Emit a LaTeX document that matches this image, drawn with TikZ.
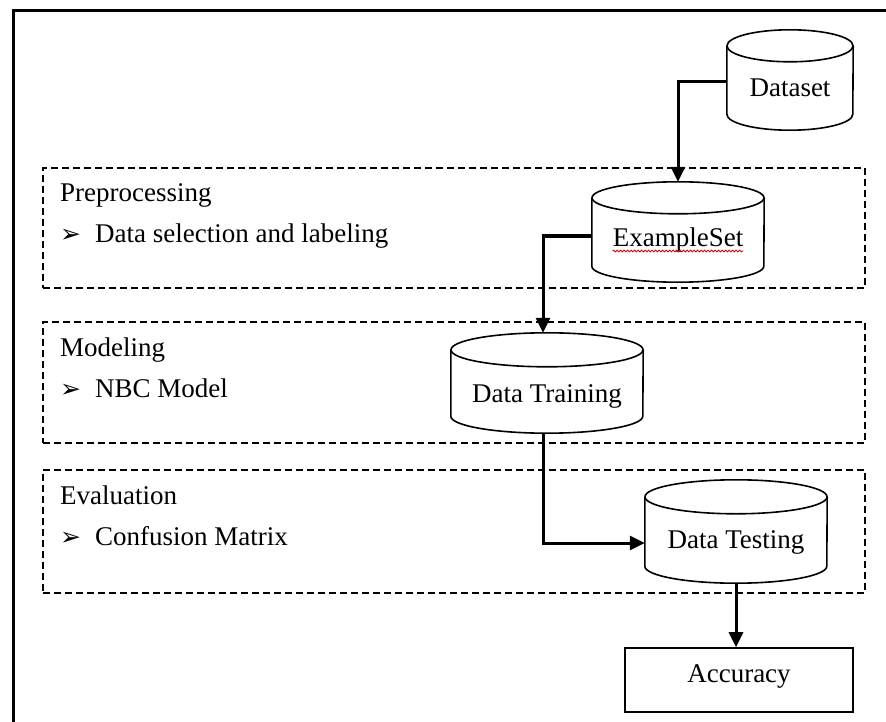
\documentclass[tikz,border=0pt]{standalone}
\usepackage{fontspec}
\setmainfont{Liberation Serif}
\newfontfamily\dingfont{DejaVu Sans}
\usetikzlibrary{arrows.meta,decorations.pathmorphing}
\begin{document}
\begin{tikzpicture}[x=1pt,y=-1pt,
  frame/.style={line width=3pt},
  grp/.style={draw,dashed,dash pattern=on 7pt off 4pt,line width=1.8pt,rectangle,inner sep=0pt},
  cylbody/.style={rectangle,inner sep=0pt},
  cylline/.style={line width=1.6pt},
  accbox/.style={draw,rectangle,line width=1.6pt,inner sep=0pt,minimum width=228pt,minimum height=64pt},
  lbl/.style={font=\fontsize{27}{32}\selectfont,inner sep=0pt},
  arr/.style={line width=3pt,-{Triangle[length=15pt,width=14pt]}},
]
\useasboundingbox (0,0) rectangle (886,722);
\fill[white] (0,0) rectangle (886,722);
% outer frame
\draw[frame] (13.3,730) -- (13.3,10.5) -- (890,10.5);

% dashed group boxes
\node[grp,minimum width=822pt,minimum height=120pt] (pre) at (454,228) {};
\node[grp,minimum width=822pt,minimum height=121pt] (mod) at (454,382.5) {};
\node[grp,minimum width=822pt,minimum height=123pt] (eva) at (454,531.5) {};

% group texts
\node[lbl,anchor=base west] (preT) at (60,202) {Preprocessing};
\node[lbl,anchor=base west] (preB) at (60,243) {\makebox[35pt][l]{\dingfont\fontsize{25}{28}\selectfont ➢}Data selection and labeling};
\node[lbl,anchor=base west] (modT) at (60,356) {Modeling};
\node[lbl,anchor=base west] (modB) at (60,397) {\makebox[35pt][l]{\dingfont\fontsize{25}{28}\selectfont ➢}NBC Model};
\node[lbl,anchor=base west] (evaT) at (60,504) {Evaluation};
\node[lbl,anchor=base west] (evaB) at (60,545) {\makebox[35pt][l]{\dingfont\fontsize{25}{28}\selectfont ➢}Confusion Matrix};

% cylinder bodies
\node[cylbody,minimum width=126pt,minimum height=100pt] (ds) at (790,80) {};
\node[cylbody,minimum width=172pt,minimum height=100pt] (es) at (678,232) {};
\node[cylbody,minimum width=192pt,minimum height=100pt] (dtr) at (547,383) {};
\node[cylbody,minimum width=182pt,minimum height=103pt] (dte) at (736,531.5) {};

\newcommand\drawcyl[3]{%
  \draw[cylline,fill=white] ([yshift=-#3pt]#1.north west) -- ([yshift=#3pt]#1.south west)
     arc[start angle=180,end angle=360,x radius=#2pt,y radius=#3pt]
     -- ([yshift=-#3pt]#1.north east);
  \draw[cylline] ([yshift=-#3pt]#1.north) ellipse [x radius=#2pt,y radius=#3pt];
}
\drawcyl{ds}{63}{16}
\drawcyl{es}{86}{16}
\drawcyl{dtr}{96}{17}
\drawcyl{dte}{91}{17}

% cylinder texts
\node[lbl,anchor=base] (dsT) at (790,97) {Dataset};
\node[lbl,anchor=base] (esT) at (678,247) {ExampleSet};
\node[lbl,anchor=base] (dtrT) at (547,402) {Data Training};
\node[lbl,anchor=base] (dteT) at (736,548) {Data Testing};
\draw[red!85!black,line width=0.8pt,decorate,decoration={snake,segment length=3.5pt,amplitude=0.9pt}]
  ([yshift=-4pt]esT.base west) -- ([yshift=-4pt]esT.base east);

% accuracy box
\node[accbox] (acc) at (739,680) {};
\node[lbl,anchor=base] (accT) at (739,682) {Accuracy};

% connectors
\draw[arr] ([yshift=-2pt]ds.west) -| (es.north);
\draw[arr] ([yshift=-4pt]es.west) -| ([xshift=-4pt]dtr.north);
\draw[arr] ([xshift=-4pt]dtr.south) |- ([yshift=-11.5pt]dte.west);
\draw[arr] (dte.south) -- (dte.south |- acc.north);
\end{tikzpicture}
\end{document}
